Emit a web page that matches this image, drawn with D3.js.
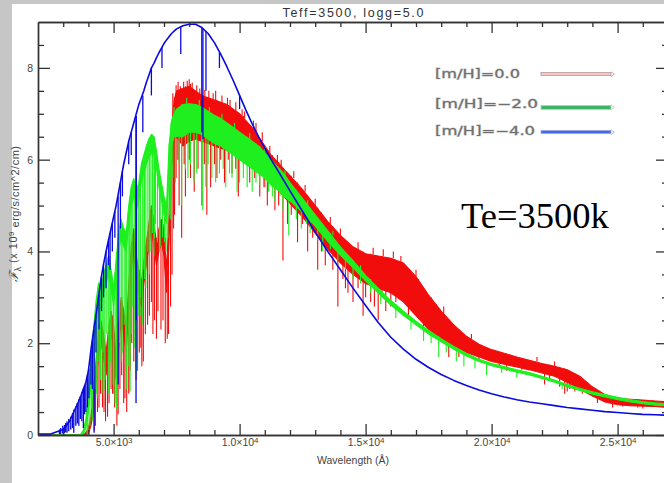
<!DOCTYPE html>
<html>
<head>
<meta charset="utf-8">
<script src="https://cdn.jsdelivr.net/npm/d3@7"></script>
<style>
  html, body { margin: 0; padding: 0; background: #fff; }
  svg { display: block; }
</style>
</head>
<body>
<svg id="chart" width="664" height="483"></svg>
<script>
// Synthetic stellar spectra, Teff=3500 K, logg=5.0, three metallicities.
// Wavelength grid in Angstrom; flux in units of 1e9 erg/s/cm^2/cm.
const wavelength = [
  2000, 2500, 3000, 3250, 3500,
  3600, 3700, 3800, 3900, 4000, 4100, 4200, 4300, 4400, 4500,
  4600, 4700, 4800, 4900, 5000, 5100, 5200, 5300, 5400, 5500,
  5600, 5700, 5800, 5900, 6000, 6100, 6200, 6300, 6400, 6500,
  6600, 6700, 6800, 6900, 7000, 7100, 7200, 7300, 7400, 7500,
  7750, 8000, 8250, 8500, 8750, 9000, 9250, 9500, 9750, 10000,
  10250, 10500, 10750, 11000, 11250, 11500, 11750, 12000, 12500, 13000,
  13500, 14000, 14500, 15000, 15500, 16000, 16500, 17000, 17500, 18000,
  18500, 19000, 19500, 20000, 20500, 21000, 21500, 22000, 22500, 23000,
  23500, 24000, 24500, 25000, 25500, 26000, 26500, 27000
];

// [m/H] = -4.0 (almost line-free continuum)
const fluxM40 = [
  0.02, 0.02, 0.12, 0.3, 0.6,
  0.72, 0.85, 1.0, 1.15, 1.4, 1.85, 2.25, 2.6, 3.0, 3.4,
  3.72, 4.0, 4.25, 4.5, 4.75, 5.0, 5.3, 5.6, 5.9, 6.15,
  6.4, 6.6, 6.8, 7.0, 7.2, 7.35, 7.5, 7.68, 7.84, 8.0,
  8.1, 8.22, 8.33, 8.43, 8.53, 8.61, 8.68, 8.75, 8.8, 8.85,
  8.92, 8.95, 8.95, 8.88, 8.75, 8.55, 8.3, 8.02, 7.72, 7.4,
  7.08, 6.78, 6.5, 6.25, 6.0, 5.78, 5.55, 5.32, 4.87, 4.42,
  4.0, 3.6, 3.2, 2.82, 2.45, 2.13, 1.87, 1.65, 1.47, 1.32,
  1.19, 1.08, 0.98, 0.9, 0.83, 0.77, 0.72, 0.68, 0.64, 0.6,
  0.57, 0.54, 0.51, 0.49, 0.47, 0.45, 0.44, 0.43
];

// [m/H] = -2.0 : upper and lower edge of the line-blanketed band
const fluxM20Hi = [
  0, 0, 0, 0, 0,
  0, 0.02, 0.1, 0.35, 0.9, 1.6, 2.3, 2.9, 3.3, 3.2,
  3.5, 3.7, 3.9, 3.6, 3.2, 3.8, 4.4, 4.7, 4.5, 4.4,
  5.0, 5.4, 5.6, 5.3, 5.5, 5.9, 6.1, 6.3, 6.45, 6.55,
  6.5, 6.2, 5.8, 5.5, 5.2, 5.0, 6.3, 6.85, 7.0, 7.1,
  7.2, 7.22, 7.2, 7.15, 7.05, 6.97, 6.9, 6.8, 6.7, 6.6,
  6.5, 6.4, 6.3, 6.15, 6.0, 5.85, 5.7, 5.5, 5.15, 4.8,
  4.45, 4.1, 3.8, 3.48, 3.2, 2.93, 2.7, 2.48, 2.28, 2.1,
  1.93, 1.78, 1.65, 1.56, 1.49, 1.42, 1.36, 1.28, 1.2, 1.1,
  1.02, 0.94, 0.88, 0.82, 0.77, 0.73, 0.7, 0.68
];
const fluxM20Lo = [
  0, 0, 0, 0, 0,
  0, 0, 0.02, 0.15, 0.5, 1.1, 1.8, 2.4, 2.8, 2.7,
  3.1, 3.3, 3.5, 3.2, 2.8, 3.4, 4.0, 4.3, 4.1, 4.0,
  4.6, 5.0, 5.2, 4.9, 5.1, 5.5, 5.7, 5.9, 6.05, 6.15,
  6.1, 5.8, 5.4, 5.1, 4.8, 4.6, 5.7, 6.3, 6.5, 6.5,
  6.5, 6.6, 6.6, 6.55, 6.45, 6.35, 6.3, 6.2, 6.1, 6.0,
  5.9, 5.8, 5.7, 5.6, 5.45, 5.35, 5.2, 5.1, 4.85, 4.55,
  4.22, 3.92, 3.65, 3.36, 3.09, 2.83, 2.61, 2.4, 2.2, 2.03,
  1.87, 1.72, 1.6, 1.51, 1.44, 1.37, 1.31, 1.23, 1.15, 1.05,
  0.97, 0.89, 0.83, 0.77, 0.72, 0.68, 0.65, 0.63
];

// [m/H] = 0.0 : upper and lower edge of the line-blanketed band
const fluxM00Hi = [
  0, 0, 0, 0, 0,
  0, 0, 0, 0.05, 0.15, 0.4, 0.9, 1.6, 2.2, 2.5,
  2.2, 1.8, 2.3, 2.7, 2.4, 1.7, 2.4, 3.0, 2.7, 2.3,
  3.3, 4.1, 4.5, 3.9, 3.6, 3.3, 3.8, 4.2, 4.6, 5.0,
  4.6, 4.2, 4.5, 4.7, 4.4, 3.6, 4.8, 6.6, 7.3, 7.5,
  7.55, 7.6, 7.5, 7.4, 7.35, 7.3, 7.25, 7.2, 7.1, 7.0,
  6.85, 6.7, 6.5, 6.3, 6.1, 5.95, 5.8, 5.65, 5.35, 5.0,
  4.65, 4.35, 4.1, 3.95, 3.9, 3.85, 3.75, 3.45, 3.05, 2.7,
  2.4, 2.15, 1.98, 1.86, 1.78, 1.7, 1.63, 1.56, 1.5, 1.42,
  1.28, 1.05, 0.88, 0.8, 0.78, 0.76, 0.74, 0.72
];
const fluxM00Lo = [
  0, 0, 0, 0, 0,
  0, 0, 0, 0, 0.03, 0.2, 0.5, 1.1, 1.7, 2.0,
  1.7, 1.3, 1.8, 2.2, 1.9, 1.2, 1.9, 2.5, 2.2, 1.8,
  2.8, 3.6, 4.0, 3.4, 3.1, 2.8, 3.3, 3.7, 4.1, 4.5,
  4.1, 3.7, 4.0, 4.2, 3.9, 3.1, 4.2, 5.8, 6.4, 6.5,
  6.3, 6.4, 6.45, 6.4, 6.35, 6.3, 6.25, 6.2, 6.15, 6.1,
  6.0, 5.9, 5.8, 5.65, 5.5, 5.35, 5.2, 5.05, 4.75, 4.4,
  4.05, 3.75, 3.5, 3.3, 3.2, 3.1, 2.9, 2.6, 2.3, 2.1,
  1.95, 1.8, 1.7, 1.6, 1.54, 1.48, 1.42, 1.35, 1.28, 1.15,
  1.0, 0.85, 0.72, 0.66, 0.64, 0.63, 0.62, 0.6
];

// Individual spectral features: [wavelength, flux at one end, flux at other end]
const linesM00 = [
  [4230, 1.2, 0.1], [4280, 1.4, 0.2], [4360, 1.9, 0.5], [4420, 2.3, 0.6], [4480, 2.45, 0.9],
  [4560, 2.3, 0.6], [4620, 2.1, 0.5], [4680, 1.9, 0.3], [4760, 2.0, 0.4], [4820, 2.4, 0.7],
  [4900, 2.7, 1.0], [4960, 2.6, 0.9], [5040, 2.2, 0.6], [5130, 1.9, 0.2], [5180, 2.1, 0.45],
  [5250, 2.7, 1.0], [5320, 3.0, 1.3], [5400, 2.7, 0.7], [5450, 2.6, 0.8], [5520, 2.4, 0.5],
  [5600, 3.2, 0.9], [5660, 3.8, 1.4], [5720, 4.2, 2.0], [5800, 4.5, 1.6], [5890, 3.9, 1.2],
  [5950, 3.7, 1.4], [6020, 3.6, 1.8], [6080, 3.4, 1.9], [6120, 3.3, 1.5], [6180, 3.7, 1.6],
  [6260, 4.0, 2.2], [6350, 4.3, 2.4], [6420, 4.7, 2.6], [6500, 5.0, 2.9], [6560, 4.8, 2.2],
  [6620, 4.5, 2.5], [6700, 4.2, 2.1], [6760, 4.35, 2.7], [6880, 4.7, 2.3], [6960, 4.6, 2.5],
  [7050, 4.3, 2.0], [7130, 3.6, 2.1], [7180, 4.3, 2.2], [7260, 5.5, 2.8], [7320, 6.8, 3.5],
  [7380, 7.1, 4.5], [7420, 7.3, 4.8], [7480, 7.4, 5.6], [7550, 7.45, 6.0], [7600, 7.5, 5.0],
  [7700, 7.55, 4.3], [7800, 7.5, 5.9], [7850, 7.6, 5.2], [8000, 7.6, 6.0], [8050, 7.65, 5.6],
  [8200, 7.5, 5.3], [8350, 7.45, 5.8], [8500, 7.4, 5.0], [8600, 7.38, 5.9], [8700, 7.35, 4.8],
  [8850, 7.3, 5.4], [9000, 7.3, 5.9], [9100, 7.3, 5.6], [9250, 7.25, 6.0], [9400, 7.2, 5.5],
  [9550, 7.18, 6.0], [9700, 7.1, 5.7], [9850, 7.05, 5.8], [9950, 7.0, 5.2], [10150, 6.95, 5.9],
  [10400, 6.75, 5.5], [10600, 6.6, 5.6], [10800, 6.45, 5.2], [11000, 6.3, 5.4], [11100, 6.2, 5.0],
  [11300, 6.1, 5.4], [11400, 6.0, 4.9], [11550, 5.95, 5.0], [11720, 5.8, 3.8], [11900, 5.7, 4.6],
  [12050, 5.65, 4.8], [12300, 5.5, 4.2], [12500, 5.35, 4.6], [12700, 5.2, 4.0], [12900, 5.05, 4.3],
  [13100, 4.95, 3.6], [13250, 4.85, 4.0], [13400, 4.7, 3.7], [13700, 4.55, 3.6], [13900, 4.4, 2.8],
  [14100, 4.3, 3.4], [14200, 4.25, 3.2], [14300, 4.2, 3.1], [14500, 4.1, 2.9], [14700, 4.05, 3.2],
  [14900, 4.0, 2.6], [15000, 3.95, 3.0], [15200, 3.95, 2.9], [15350, 3.92, 2.8], [15500, 3.9, 2.5],
  [15650, 3.9, 3.0], [15800, 3.87, 2.7], [16000, 3.85, 2.8], [16200, 3.8, 2.9], [16400, 3.78, 3.0],
  [16700, 3.6, 2.6], [16900, 3.5, 2.7], [17100, 3.4, 2.6], [17300, 3.2, 2.2], [17600, 3.0, 2.3],
  [17800, 2.85, 2.2], [18300, 2.5, 1.7], [18500, 2.4, 1.9], [18700, 2.3, 1.7], [19000, 2.15, 1.75],
  [19500, 1.98, 1.62], [20300, 1.8, 1.5], [20600, 1.77, 1.4], [21200, 1.68, 1.42], [22100, 1.55, 1.1],
  [22300, 1.53, 1.2], [22700, 1.48, 1.05], [22900, 1.45, 0.9], [23000, 1.42, 0.95], [23100, 1.4, 1.0],
  [23300, 1.35, 0.95], [23600, 1.2, 0.9], [24200, 0.98, 0.7], [24800, 0.82, 0.6], [25200, 0.8, 0.62],
  [25800, 0.77, 0.6], [26000, 0.76, 0.58], [26400, 0.75, 0.62],
  // jagged top of the band
  [7350, 6.9, 7.45], [7480, 7.4, 7.62], [7560, 7.45, 7.7], [7650, 7.5, 7.6], [7780, 7.5, 7.7],
  [7920, 7.55, 7.72], [8000, 7.6, 7.75], [8120, 7.55, 7.68], [8300, 7.45, 7.62], [8420, 7.4, 7.55],
  [8620, 7.38, 7.52], [8780, 7.33, 7.5], [8950, 7.3, 7.45], [9050, 7.3, 7.5], [9300, 7.23, 7.4],
  [9520, 7.18, 7.35], [9620, 7.15, 7.3], [9850, 7.05, 7.25], [10100, 6.95, 7.1], [10200, 6.9, 7.05],
  [10550, 6.65, 6.85], [10650, 6.58, 6.8], [10900, 6.4, 6.6], [11200, 6.15, 6.3], [11500, 5.95, 6.1],
  [11650, 5.85, 6.0], [12150, 5.6, 5.75], [12600, 5.3, 5.45], [13000, 5.0, 5.15], [13600, 4.6, 4.75],
  [14000, 4.35, 4.5], [14700, 4.05, 4.2], [15300, 3.93, 4.08], [15700, 3.9, 4.05], [16100, 3.85, 4.0],
  [16400, 3.78, 3.9], [17000, 3.45, 3.6], [18100, 2.65, 2.8], [19200, 2.1, 2.2], [21800, 1.6, 1.7],
  [22500, 1.5, 1.6]
];
const linesM20 = [
  [3950, 0.5, 0.0], [3980, 0.7, 0.1], [4060, 1.2, 0.2], [4120, 1.7, 0.6], [4150, 1.8, 0.3],
  [4180, 2.1, 0.4], [4250, 2.6, 1.0], [4330, 3.0, 0.9], [4350, 3.0, 0.8], [4390, 3.25, 1.6],
  [4450, 3.25, 1.2], [4480, 3.2, 1.2], [4540, 3.3, 0.9], [4580, 3.4, 1.8], [4620, 3.5, 1.0],
  [4660, 3.6, 1.2], [4730, 3.75, 2.2], [4790, 3.88, 0.9], [4850, 3.9, 1.5], [4870, 3.7, 1.6],
  [4930, 3.5, 1.1], [5000, 3.2, 0.9], [5060, 3.55, 0.7], [5110, 3.85, 0.6], [5130, 4.0, 0.55],
  [5160, 4.1, 1.2], [5240, 4.5, 2.0], [5300, 4.7, 1.6], [5340, 4.6, 1.8], [5420, 4.5, 2.4],
  [5480, 4.4, 1.4], [5520, 4.5, 1.0], [5580, 4.85, 1.5], [5640, 5.15, 0.95], [5650, 5.2, 0.95],
  [5700, 5.4, 2.2], [5760, 5.5, 2.8], [5840, 5.5, 1.9], [5890, 5.3, 1.3], [5920, 5.35, 1.4],
  [5980, 5.45, 2.6], [6050, 5.6, 2.6], [6060, 5.7, 3.0], [6140, 6.0, 2.4], [6200, 6.1, 3.6],
  [6230, 6.1, 3.4], [6280, 6.25, 3.2], [6360, 6.4, 4.0], [6420, 6.47, 3.5], [6480, 6.5, 4.0],
  [6540, 6.55, 4.4], [6600, 6.5, 3.9], [6620, 6.5, 4.3], [6660, 6.35, 4.6], [6740, 6.05, 4.2],
  [6820, 5.75, 4.0], [6850, 5.6, 4.1], [6940, 5.4, 4.3], [7020, 5.15, 4.2], [7080, 5.0, 4.0],
  [7150, 5.5, 4.3], [7210, 6.35, 4.8], [7250, 6.5, 4.7], [7280, 6.8, 5.0], [7300, 6.85, 5.3],
  [7350, 6.95, 5.6], [7450, 7.05, 5.5], [7600, 7.15, 5.9], [7700, 7.2, 5.0], [7850, 7.2, 5.8],
  [7950, 7.22, 5.6], [8050, 7.22, 5.9], [8190, 7.2, 5.5], [8300, 7.2, 5.7], [8500, 7.15, 5.0],
  [8540, 7.15, 4.9], [8660, 7.1, 5.4], [8750, 7.05, 5.9], [8900, 7.0, 5.6], [9050, 6.95, 5.5],
  [9200, 6.9, 5.7], [9350, 6.85, 5.8], [9450, 6.8, 5.4], [9600, 6.75, 5.7], [9700, 6.7, 5.6],
  [9900, 6.65, 5.3], [10000, 6.6, 5.5], [10150, 6.55, 5.6], [10300, 6.5, 5.4], [10500, 6.4, 5.3],
  [10650, 6.35, 5.5], [10800, 6.3, 5.45], [10950, 6.2, 5.4], [11150, 6.1, 5.3], [11300, 5.95, 5.2],
  [11400, 5.9, 5.1], [11600, 5.8, 5.2], [11720, 5.7, 4.9], [11950, 5.5, 4.35], [12250, 5.35, 4.7],
  [12450, 5.2, 4.5], [12650, 5.05, 4.6], [12800, 4.95, 4.4], [13100, 4.7, 4.25], [13300, 4.6, 4.0],
  [13600, 4.4, 4.05], [13900, 4.15, 3.8], [14200, 3.95, 3.6], [14500, 3.8, 3.4], [14800, 3.6, 3.3],
  [15200, 3.4, 3.1], [15600, 3.15, 2.85], [16200, 2.85, 2.55], [16800, 2.55, 2.3], [17300, 2.35, 2.05],
  [17600, 2.25, 2.0], [17900, 2.15, 1.7], [18200, 2.03, 1.8], [18600, 1.9, 1.6], [18900, 1.8, 1.5],
  [19340, 1.68, 1.45], [19800, 1.6, 1.3], [20400, 1.5, 1.35], [21000, 1.42, 1.25], [22800, 1.12, 1.0],
  // jagged top of the band
  [7400, 6.95, 7.15], [7900, 7.2, 7.35], [8400, 7.17, 7.3], [8800, 7.02, 7.15], [9300, 6.87, 7.0],
  [9800, 6.68, 6.8], [10400, 6.45, 6.58], [11000, 6.15, 6.28], [11800, 5.65, 5.78], [12700, 5.0, 5.12],
  [13700, 4.35, 4.45], [14800, 3.6, 3.7]
];
const linesM40 = [
  [2850, 0.12, 0.02], [2900, 0.15, 0.02], [2980, 0.2, 0.03], [3050, 0.22, 0.04], [3100, 0.26, 0.06],
  [3150, 0.3, 0.05], [3220, 0.35, 0.08], [3300, 0.4, 0.12], [3370, 0.48, 0.15], [3420, 0.55, 0.05],
  [3500, 0.62, 0.2], [3560, 0.7, 0.25], [3620, 0.78, 0.2], [3680, 0.85, 0.35], [3740, 0.93, 0.3],
  [3800, 1.0, 0.15], [3850, 1.07, 0.45], [3900, 1.15, 0.5], [3960, 1.3, 0.6], [4020, 1.45, 0.8],
  [4100, 1.85, 1.1], [4160, 2.05, 1.0], [4227, 2.3, 0.05], [4300, 2.6, 1.8], [4420, 3.05, 2.3],
  [4520, 3.45, 2.7], [4600, 3.72, 3.0], [4700, 4.0, 3.2], [4800, 4.25, 3.7], [4860, 4.4, 3.6],
  [4950, 4.62, 4.0], [5050, 4.87, 4.3], [5180, 5.2, 1.1], [5270, 5.5, 4.5], [5350, 5.75, 5.2],
  [5600, 6.4, 5.9], [5700, 6.6, 6.1], [5890, 6.95, 0.7], [5900, 6.95, 2.5], [6160, 7.4, 6.6],
  [6500, 8.0, 7.4], [6920, 8.45, 8.0], [7665, 8.9, 8.3], [8500, 8.88, 6.6], [8545, 8.87, 6.45],
  [8665, 8.8, 7.5], [9200, 8.35, 8.0], [10000, 7.4, 7.1]
];

// Axis ticks
const xMajorTicks = [5000, 10000, 15000, 20000, 25000];
const xTickMantissa = ["5.0", "1.0", "1.5", "2.0", "2.5"];
const xTickExponent = ["3", "4", "4", "4", "4"];
const xMinorTicks = [3000, 4000, 6000, 7000, 8000, 9000, 11000, 12000, 13000, 14000,
  16000, 17000, 18000, 19000, 21000, 22000, 23000, 24000, 26000];
const yMajorTicks = [0, 2, 4, 6, 8];
const yMinorTicks = [0.5, 1, 1.5, 2.5, 3, 3.5, 4.5, 5, 5.5, 6.5, 7, 7.5, 8.5];

// Legend
const legendLabels = ["[m/H]=0.0", "[m/H]=\u22122.0", "[m/H]=\u22124.0"];
const legendFill = ["#f3c6c6", "#3cb465", "#3b6ee8"];
const legendEdge = ["#b99a9a", "#a8d8b4", "#a7a7dc"];

const titleText = "Teff=3500, logg=5.0";
const noteText = "Te=3500k";

const colRed = "#f20d0d", colGreen = "#1fef1f", colBlue = "#0a0ae0";

const svg = d3.select("#chart");
const W = 664, H = 483;

const x = d3.scaleLinear().domain([2000, 27000]).range([38, 668]);
const y = d3.scaleLinear().domain([0, 9]).range([435, 22]);

// page frame strips
svg.append("rect").attr("x", 0).attr("y", 0).attr("width", W).attr("height", 4).attr("fill", "#c6c6c6");
svg.append("rect").attr("x", 0).attr("y", 0).attr("width", 12).attr("height", H).attr("fill", "#c6c6c6");

const [x0, x1] = x.range();
const [yb, yt] = y.range();

svg.append("clipPath").attr("id", "plotClip")
  .append("rect").attr("x", x0).attr("y", yt).attr("width", x1 - x0).attr("height", yb - yt);

const plot = svg.append("g").attr("clip-path", "url(#plotClip)");

function bandRows(hi, lo) {
  return wavelength.map((w, i) => ({ w, hi: hi[i], lo: lo[i] }));
}
const area = d3.area().x(d => x(d.w)).y0(d => y(d.lo)).y1(d => y(d.hi));
const edgeHi = d3.line().x(d => x(d.w)).y(d => y(d.hi));
const edgeLo = d3.line().x(d => x(d.w)).y(d => y(d.lo));

function drawBand(hi, lo, lines, color) {
  const rows = bandRows(hi, lo);
  const g = plot.append("g");
  g.append("path").attr("d", area(rows)).attr("fill", color).attr("stroke", "none");
  g.append("path").attr("d", edgeHi(rows)).attr("fill", "none").attr("stroke", color).attr("stroke-width", 1.1);
  g.append("path").attr("d", edgeLo(rows)).attr("fill", "none").attr("stroke", color).attr("stroke-width", 1.1);
  g.selectAll("line.feat").data(lines).join("line")
    .attr("class", "feat")
    .attr("x1", d => x(d[0])).attr("x2", d => x(d[0]))
    .attr("y1", d => y(d[1])).attr("y2", d => y(d[2]))
    .attr("stroke", color).attr("stroke-width", 1.1);
}

drawBand(fluxM00Hi, fluxM00Lo, linesM00, colRed);
drawBand(fluxM20Hi, fluxM20Lo, linesM20, colGreen);

// [m/H] = -4.0 drawn as a line
const blueRows = wavelength.map((w, i) => ({ w, f: fluxM40[i] }));
const blueLine = d3.line().x(d => x(d.w)).y(d => y(d.f));
const gb = plot.append("g");
gb.append("path").attr("d", blueLine(blueRows)).attr("fill", "none")
  .attr("stroke", colBlue).attr("stroke-width", 1.6).attr("stroke-linejoin", "round");
gb.selectAll("line").data(linesM40).join("line")
  .attr("x1", d => x(d[0])).attr("x2", d => x(d[0]))
  .attr("y1", d => y(d[1])).attr("y2", d => y(d[2]))
  .attr("stroke", colBlue).attr("stroke-width", 1.3);

// axes
const axisColor = "#333";
const sans = "'Liberation Sans', Arial, sans-serif";
function styleAxis(g, showText) {
  g.select(".domain").attr("stroke", axisColor).attr("stroke-width", 1.4);
  g.selectAll(".tick line").attr("stroke", axisColor).attr("stroke-width", 1.3);
  if (!showText) g.selectAll(".tick text").remove();
  else g.selectAll(".tick text").attr("fill", "#444")
    .attr("font-family", sans).attr("font-size", 10.5);
}

// left
svg.append("g").attr("transform", `translate(${x0},0)`)
  .call(d3.axisLeft(y).tickValues(yMinorTicks).tickSize(-6).tickSizeOuter(0).tickFormat(""))
  .call(g => styleAxis(g, false));
svg.append("g").attr("transform", `translate(${x0},0)`)
  .call(d3.axisLeft(y).tickValues(yMajorTicks).tickSize(-12).tickSizeOuter(0).tickPadding(5).tickFormat(d3.format("d")))
  .call(g => styleAxis(g, true));
// right
svg.append("g").attr("transform", `translate(${x1},0)`)
  .call(d3.axisRight(y).tickValues(yMinorTicks).tickSize(-6).tickSizeOuter(0).tickFormat(""))
  .call(g => styleAxis(g, false));
svg.append("g").attr("transform", `translate(${x1},0)`)
  .call(d3.axisRight(y).tickValues(yMajorTicks).tickSize(-12).tickSizeOuter(0).tickFormat(""))
  .call(g => styleAxis(g, false));
// top
svg.append("g").attr("transform", `translate(0,${yt})`)
  .call(d3.axisTop(x).tickValues(xMinorTicks).tickSize(-5).tickSizeOuter(0).tickFormat(""))
  .call(g => styleAxis(g, false));
svg.append("g").attr("transform", `translate(0,${yt})`)
  .call(d3.axisTop(x).tickValues(xMajorTicks).tickSize(-11).tickSizeOuter(0).tickFormat(""))
  .call(g => styleAxis(g, false));
// bottom
svg.append("g").attr("transform", `translate(0,${yb})`)
  .call(d3.axisBottom(x).tickValues(xMinorTicks).tickSize(-5).tickSizeOuter(0).tickFormat(""))
  .call(g => styleAxis(g, false));
const xAxisG = svg.append("g").attr("transform", `translate(0,${yb})`)
  .call(d3.axisBottom(x).tickValues(xMajorTicks).tickSize(-11).tickSizeOuter(0).tickPadding(4).tickFormat(""))
  .call(g => styleAxis(g, true));
xAxisG.selectAll(".tick text").each(function (d) {
  const i = xMajorTicks.indexOf(d);
  const t = d3.select(this).attr("font-size", 10.5);
  t.text(null);
  t.append("tspan").text(xTickMantissa[i] + "\u00d710");
  t.append("tspan").attr("dy", "-0.45em").attr("font-size", 8).text(xTickExponent[i]);
});

// axis titles
svg.append("text").attr("x", 353).attr("y", 464)
  .attr("text-anchor", "middle").attr("font-family", sans).attr("font-size", 10.5).attr("fill", "#444")
  .text("Wavelength (\u00c5)");

const yl = svg.append("text").attr("transform", "translate(18,214) rotate(-90)")
  .attr("text-anchor", "middle").attr("font-family", sans).attr("font-size", 11).attr("fill", "#444")
  .attr("textLength", 136).attr("lengthAdjust", "spacing");
yl.append("tspan").attr("font-size", 12.5).attr("font-style", "italic").text("\u2131");
yl.append("tspan").attr("dy", "0.3em").attr("font-size", 9).text("\u03bb");
yl.append("tspan").attr("dy", "-0.3em").text("  (x 10");
yl.append("tspan").attr("dy", "-0.45em").attr("font-size", 8).text("9");
yl.append("tspan").attr("dy", "0.45em").text(" erg/s/cm^2/cm)");

svg.append("text").attr("x", 353).attr("y", 17).attr("text-anchor", "middle")
  .attr("font-family", sans).attr("font-size", 12.5).attr("fill", "#333")
  .attr("textLength", 141).attr("lengthAdjust", "spacing")
  .text(titleText);

// legend
const legend = svg.append("g");
const legendY = [78, 108, 135];
const legendLen = [85, 103, 100];
legendLabels.forEach((lab, i) => {
  legend.append("text").attr("x", 435).attr("y", legendY[i])
    .attr("font-family", "'DejaVu Sans', sans-serif").attr("font-size", 12)
    .attr("fill", "#6e6e6e").attr("stroke", "#c4c4c4").attr("stroke-width", 0.9).attr("paint-order", "stroke")
    .attr("textLength", legendLen[i]).attr("lengthAdjust", "spacingAndGlyphs")
    .text(lab);
  const ly = legendY[i] - 4 + (i === 1 ? 3 : (i === 2 ? 1 : 0));
  legend.append("rect").attr("x", 541).attr("y", ly - 1.6).attr("width", 70).attr("height", i === 1 ? 4 : 3.2)
    .attr("fill", legendFill[i]).attr("stroke", legendEdge[i]).attr("stroke-width", 0.8);
  legend.append("path")
    .attr("d", `M611,${ly - 2.2} L614.5,${ly + 0.2} L611,${ly + 2.6}`)
    .attr("fill", "none").attr("stroke", legendEdge[i]).attr("stroke-width", 0.8);
});

svg.append("text").attr("x", 461).attr("y", 228)
  .attr("font-family", "'Liberation Serif', 'Times New Roman', serif").attr("font-size", 36.5)
  .attr("fill", "#000").text(noteText);
</script>
</body>
</html>
